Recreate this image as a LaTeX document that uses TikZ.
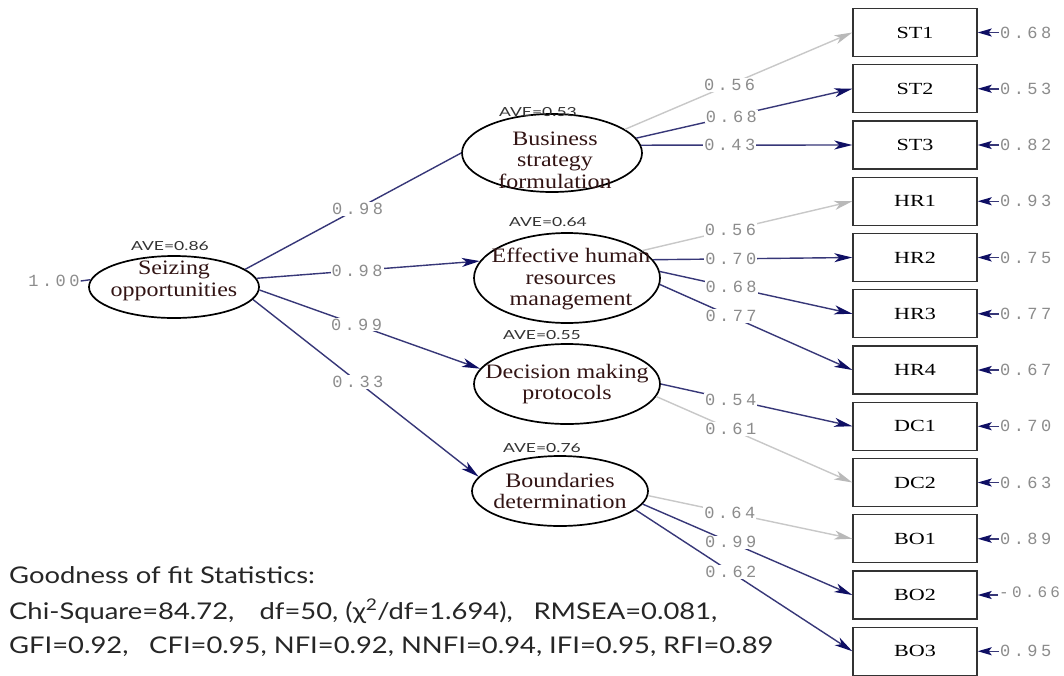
\documentclass[tikz,border=0pt]{standalone}
\usepackage{fontspec}
\usetikzlibrary{shapes.geometric,arrows.meta}
\setmainfont{Liberation Serif}
\newfontfamily\ellfont[FakeStretch=1.17]{Liberation Serif}
\newfontfamily\boxfont[FakeStretch=1.3]{Liberation Serif}
\newfontfamily\lblfont[LetterSpace=20]{Liberation Mono}
\newfontfamily\avefont[FakeStretch=1.4]{Lato}
\newfontfamily\gofont[FakeStretch=1.19]{Lato}
\definecolor{navyl}{RGB}{55,55,120}
\definecolor{navyh}{RGB}{15,15,100}
\definecolor{lgray}{RGB}{200,200,200}
\definecolor{lgrayh}{RGB}{185,185,185}
\definecolor{lblgray}{RGB}{140,140,140}
\definecolor{ellcol}{RGB}{50,20,20}
\tikzset{
  lat/.style={ellipse, draw=black, line width=1.7pt, inner sep=0pt},
  ind/.style={rectangle, draw=black!80, line width=1.4pt, minimum width=124pt, minimum height=48pt, inner sep=0pt, font=\boxfont\fontsize{17}{17}\selectfont},
  ltxt/.style={align=center, inner sep=0pt, font=\ellfont\fontsize{20.5}{21.5}\selectfont, text=ellcol},
  ave/.style={inner sep=0pt, font=\avefont\fontsize{12.5}{12.5}\selectfont, text=black!80},
  lbl/.style={font=\lblfont\fontsize{17}{17}\selectfont, text=lblgray, fill=white, inner sep=1pt},
  elbl/.style={font=\lblfont\fontsize{17}{17}\selectfont, text=lblgray, inner sep=1pt, anchor=west},
  dk/.style={draw=navyl, line width=1.4pt, -{Stealth[length=18pt,width=9pt,inset=5pt,color=navyh]}},
  dkn/.style={draw=navyl, line width=1.4pt},
  lt/.style={draw=lgray, line width=1.4pt, -{Stealth[length=18pt,width=9pt,inset=5pt,color=lgrayh]}},
  err/.style={draw=navyl, line width=1.5pt, -{Stealth[length=14pt,width=8pt,inset=3pt,color=navyh]}},
  gof/.style={anchor=west, inner sep=0pt, font=\gofont\fontsize{23}{23}\selectfont, text=black!85}
}
\begin{document}
\begin{tikzpicture}[x=1pt,y=-1pt]
\fill[white] (0,0) rectangle (1064,675);
\useasboundingbox (0,0) rectangle (1064,675);

% latent variables
\node[lat, minimum width=170pt, minimum height=62pt] (sei) at (174,287) {};
\node[lat, minimum width=180pt, minimum height=78pt] (bus) at (552,153) {};
\node[lat, minimum width=186pt, minimum height=90pt] (eff) at (567,278) {};
\node[lat, minimum width=186pt, minimum height=80pt] (dec) at (567,384) {};
\node[lat, minimum width=176pt, minimum height=70pt] (bou) at (560,491) {};

\node[ltxt] (seit) at (174,281) {Seizing\\opportunities};
\node[ltxt] (bust) at (555,160) {Business\\strategy\\formulation};
\node[ltxt] (efft) at (571,279) {Effective human\\resources\\management};
\node[ltxt] (dect) at (567,384) {Decision making\\protocols};
\node[ltxt] (bout) at (560,491) {Boundaries\\determination};

\node[ave] (a1) at (170,246) {AVE=0.86};
\node[ave] (a2) at (538,112) {AVE=0.53};
\node[ave] (a3) at (548,222) {AVE=0.64};
\node[ave] (a4) at (542,335) {AVE=0.55};
\node[ave] (a5) at (542,448) {AVE=0.76};

% indicators
\node[ind] (st1) at (915,32.5) {ST1};
\node[ind] (st2) at (915,88.75) {ST2};
\node[ind] (st3) at (915,145) {ST3};
\node[ind] (hr1) at (915,201.25) {HR1};
\node[ind] (hr2) at (915,257.5) {HR2};
\node[ind] (hr3) at (915,313.75) {HR3};
\node[ind] (hr4) at (915,370) {HR4};
\node[ind] (dc1) at (915,426.25) {DC1};
\node[ind] (dc2) at (915,482.5) {DC2};
\node[ind] (bo1) at (915,538.75) {BO1};
\node[ind] (bo2) at (915,595) {BO2};
\node[ind] (bo3) at (915,651.25) {BO3};

% structural paths
\node[lbl] (one) at (54,281) {1.00};
\draw[dkn] (one.east) -- (sei.175);
\draw[dkn] (sei.14) -- node[lbl, pos=0.52] {0.98} (bus.180);
\draw[dk] (sei.6) -- node[lbl, pos=0.45] {0.98} (eff.169);
\draw[dk] (sei.-2) -- node[lbl, pos=0.44] {0.99} (dec.170);
\draw[dk] (sei.-9) -- node[lbl, pos=0.465] {0.33} (bou.170);

% loadings
\draw[lt] (bus.18) -- node[lbl, pos=0.46] {0.56} (st1.west);
\draw[dk] (bus.10) -- node[lbl, pos=0.44] {0.68} (st2.west);
\draw[dk] (bus.5) -- node[lbl, pos=0.42] {0.43} (st3.west);

\draw[lt] (eff.20) -- node[lbl, pos=0.42] {0.56} (hr1.west);
\draw[dk] (eff.12) -- node[lbl, pos=0.39] {0.70} (hr2.west);
\draw[dk] (eff.4) -- node[lbl, pos=0.37] {0.68} (hr3.west);
\draw[dk] (eff.-4) -- node[lbl, pos=0.37] {0.77} (hr4.west);

\draw[dk] (dec.0) -- node[lbl, pos=0.365] {0.54} (dc1.west);
\draw[lt] (dec.-8) -- node[lbl, pos=0.38] {0.61} (dc2.west);

\draw[lt] (bou.-3) -- node[lbl, pos=0.40] {0.64} (bo1.west);
\draw[dk] (bou.-9) -- node[lbl, pos=0.42] {0.99} (bo2.west);
\draw[dk] (bou.-14) -- node[lbl, pos=0.44] {0.62} (bo3.west);

% error variances
\node[elbl] (e1) at (999,32.5) {0.68};
\node[elbl] (e2) at (999,88.75) {0.53};
\node[elbl] (e3) at (999,145) {0.82};
\node[elbl] (e4) at (999,201.25) {0.93};
\node[elbl] (e5) at (999,257.5) {0.75};
\node[elbl] (e6) at (999,313.75) {0.77};
\node[elbl] (e7) at (999,370) {0.67};
\node[elbl] (e8) at (999,426.25) {0.70};
\node[elbl] (e9) at (999,482.5) {0.63};
\node[elbl] (e10) at (999,538.75) {0.89};
\node[elbl, font=\lblfont\fontsize{16}{16}\selectfont] (e11) at (998,592) {-0.66};
\node[elbl] (e12) at (999,651.25) {0.95};
\draw[err] (e1.west) -- (st1.east);
\draw[err] (e2.west) -- (st2.east);
\draw[err] (e3.west) -- (st3.east);
\draw[err] (e4.west) -- (hr1.east);
\draw[err] (e5.west) -- (hr2.east);
\draw[err] (e6.west) -- (hr3.east);
\draw[err] (e7.west) -- (hr4.east);
\draw[err] (e8.west) -- (dc1.east);
\draw[err] (e9.west) -- (dc2.east);
\draw[err] (e10.west) -- (bo1.east);
\draw[err] (e11.west |- bo2.east) -- (bo2.east);
\draw[err] (e12.west) -- (bo3.east);

% fit statistics
\node[gof] (g1) at (9,575) {Goodness of fit Statistics:};
\node[gof] (g2) at (9,611) {Chi-Square=84.72,\hspace{1.1em}df=50, (χ\textsuperscript{2}/df=1.694),\hspace{0.9em}RMSEA=0.081,};
\node[gof] (g3) at (9,647) {GFI=0.92,\hspace{0.9em}CFI=0.95, NFI=0.92, NNFI=0.94, IFI=0.95, RFI=0.89};
\end{tikzpicture}
\end{document}
